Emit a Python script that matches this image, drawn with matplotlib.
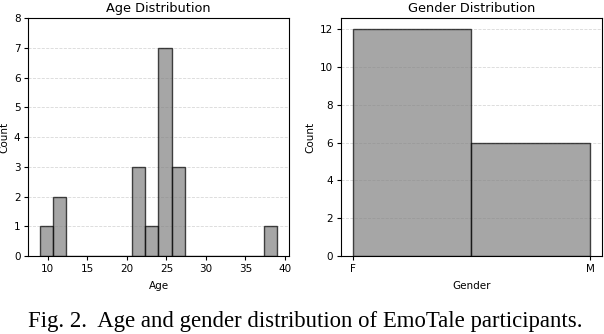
import matplotlib
matplotlib.use("Agg")
import matplotlib.pyplot as plt

# participant data
ages = [9, 11, 12, 21, 22, 22, 23, 25, 25, 25, 25, 25, 25, 25, 26, 26, 27, 39]
genders = ["F"] * 12 + ["M"] * 6

age_bins = 18
age_ylim = 8
caption = "Fig. 2.  Age and gender distribution of EmoTale participants."

fig = plt.figure(figsize=(6.04, 3.34), dpi=100)

ax1 = fig.add_axes([0.0464, 0.2335, 0.432, 0.7125])
ax2 = fig.add_axes([0.564, 0.2335, 0.4327, 0.7125])

# Age
ax1.hist(ages, bins=age_bins, color="gray", alpha=0.7, edgecolor="black", linewidth=1)
ax1.set_ylim(0, age_ylim)
ax1.set_title("Age Distribution", fontsize=9.3, pad=4)
ax1.set_xlabel("Age", fontsize=7.5, labelpad=5)
ax1.set_ylabel("Count", fontsize=7.5, labelpad=3)

# Gender
ax2.hist(genders, bins=2, color="gray", alpha=0.7, edgecolor="black", linewidth=1)
ax2.set_title("Gender Distribution", fontsize=9.3, pad=4)
ax2.set_xlabel("Gender", fontsize=7.5, labelpad=5)
ax2.set_ylabel("Count", fontsize=7.5, labelpad=3)

for ax in (ax1, ax2):
    ax.tick_params(labelsize=7.5, length=3, width=0.8, pad=2.5)
    ax.grid(axis="y", linestyle="--", color="gray", linewidth=0.6, alpha=0.3)
    ax.set_axisbelow(True)
    for s in ax.spines.values():
        s.set_linewidth(0.8)

fig.text(0.505, 0.02, caption, ha="center", va="baseline",
         family="Liberation Serif", fontsize=16.4)

fig.savefig("out.png", dpi=100)
